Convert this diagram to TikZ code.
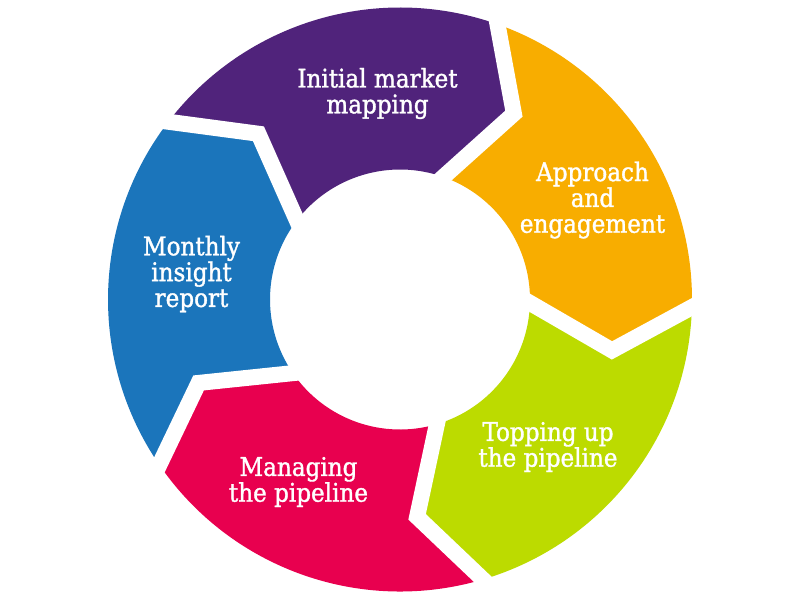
\documentclass[tikz,border=0pt]{standalone}
\usepackage{fontspec}
\setmainfont{DejaVu Serif}[FakeStretch=0.9, FakeBold=1.3]
\usetikzlibrary{calc}
\definecolor{segpurple}{HTML}{50237B}
\definecolor{segorange}{HTML}{F8AD00}
\definecolor{seggreen}{HTML}{BCDB00}
\definecolor{segred}{HTML}{E8004F}
\definecolor{segblue}{HTML}{1B75BB}
\newcommand\myRo{5.84cm}
\newcommand\myRi{2.6cm}
\newcommand\myRt{4.36cm}
\newcommand\ringseg[2]{%
  \fill[#1] (#2:\myRo) arc[start angle=#2, end angle=#2-72, radius=\myRo]
    -- (#2-84:\myRt) -- (#2-72:\myRi)
    arc[start angle=#2-72, end angle=#2, radius=\myRi]
    -- (#2-12:\myRt) -- cycle;}
\newcommand\ringgap[1]{%
  \draw[gapline] ($(#1:\myRo)!-12pt!(#1-12:\myRt)$) -- (#1-12:\myRt)
    -- ($(#1:\myRi)!-12pt!(#1-12:\myRt)$);}
\begin{document}
\begin{tikzpicture}[
  gapline/.style={draw=white, line width=0.32cm, line join=miter},
  label/.style={text=white, align=center, font=\fontsize{14.6pt}{14.7pt}\selectfont, inner sep=0pt}
]
\fill[white] (-8,-6) rectangle (8,6);
\useasboundingbox (-8,-6) rectangle (8,6);
\begin{scope}[shift={(0,0.01)}]
\ringseg{segpurple}{142.5}
\ringseg{segorange}{70.5}
\ringseg{seggreen}{-1.5}
\ringseg{segred}{-73.5}
\ringseg{segblue}{-145.5}
\ringgap{70.5}
\ringgap{-1.5}
\ringgap{-73.5}
\ringgap{-145.5}
\ringgap{142.5}
\end{scope}
\node[label] (market) at (-0.45,4.13) {Initial market\\mapping};
\node[label] (approach) at (3.85,2.0) {Approach\\and\\engagement};
\node[label] (topping) at (2.96,-2.94) {Topping up\\the pipeline};
\node[label] (managing) at (-2.03,-3.64) {Managing\\the pipeline};
\node[label] (monthly) at (-4.17,0.52) {Monthly\\insight\\report};
\end{tikzpicture}
\end{document}
